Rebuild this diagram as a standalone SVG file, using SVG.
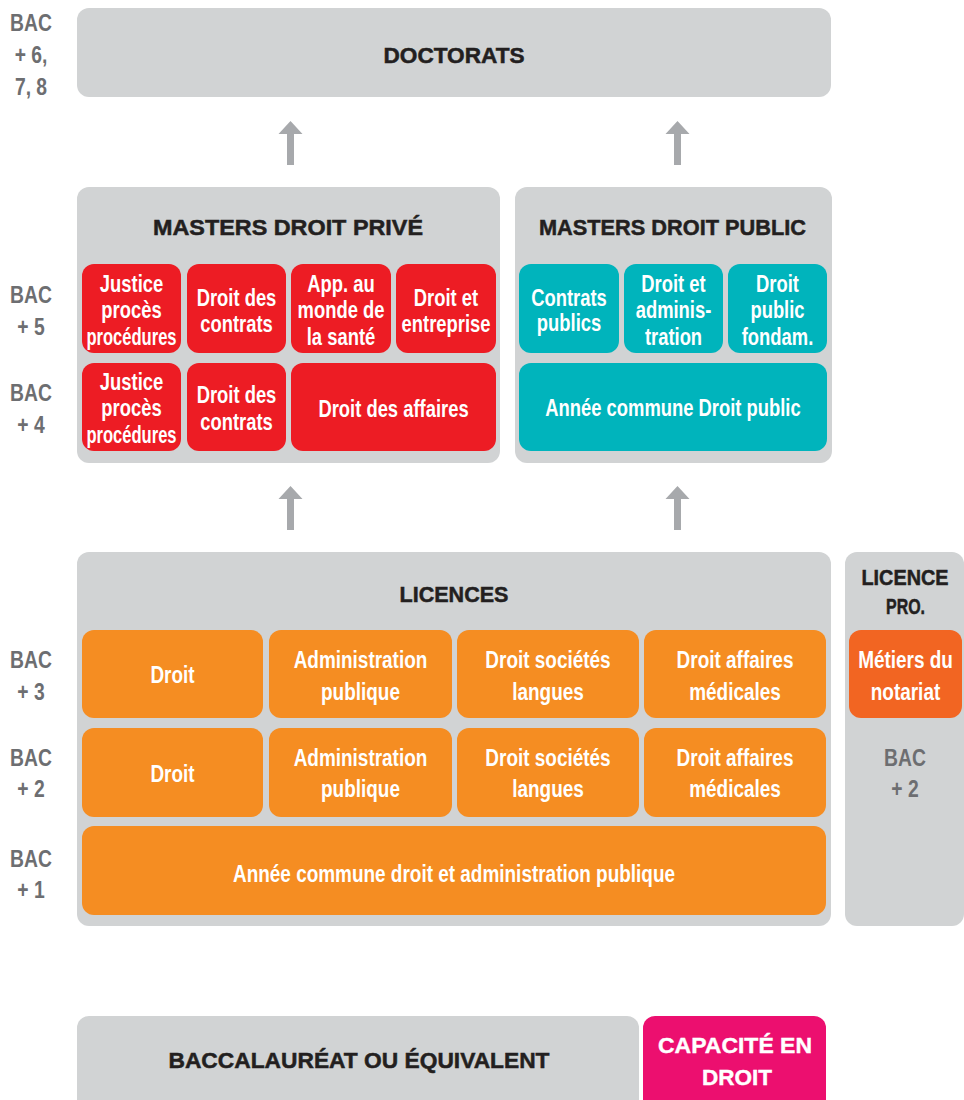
<svg xmlns="http://www.w3.org/2000/svg" width="964" height="1100" viewBox="0 0 964 1100">
<style>
.panel{fill:#d1d3d4}
.red{fill:#ed1c24}
.teal{fill:#00b4bc}
.orange{fill:#f58d22}
.dorange{fill:#f26522}
.pink{fill:#ec0f6f}
.arrow{fill:#a7a9ac}
text{font-family:"Liberation Sans",Arial,sans-serif;font-weight:bold;text-anchor:middle}
.title{font-size:22px;fill:#231f20;stroke:#231f20;stroke-width:0.5}
.wt{font-size:22px;fill:#ffffff;stroke:#ffffff;stroke-width:0.4}
.bac{font-size:23px;fill:#6d6e71}
.w{font-size:23px;fill:#ffffff}
.wo{font-size:24px;fill:#ffffff}
</style>
<rect width="964" height="1100" fill="#ffffff"/>

<g id="bac-labels">
<text class="bac" transform="translate(31,31) scale(0.84,1)">BAC</text><text class="bac" transform="translate(31,63) scale(0.84,1)">+ 6,</text><text class="bac" transform="translate(31,95) scale(0.84,1)">7, 8</text>
<text class="bac" transform="translate(31,303) scale(0.84,1)">BAC</text><text class="bac" transform="translate(31,335) scale(0.84,1)">+ 5</text>
<text class="bac" transform="translate(31,401) scale(0.84,1)">BAC</text><text class="bac" transform="translate(31,433) scale(0.84,1)">+ 4</text>
<text class="bac" transform="translate(31,668) scale(0.84,1)">BAC</text><text class="bac" transform="translate(31,700) scale(0.84,1)">+ 3</text>
<text class="bac" transform="translate(31,766) scale(0.84,1)">BAC</text><text class="bac" transform="translate(31,797) scale(0.84,1)">+ 2</text>
<text class="bac" transform="translate(31,867) scale(0.84,1)">BAC</text><text class="bac" transform="translate(31,898) scale(0.84,1)">+ 1</text>
</g>

<g id="doctorats">
<rect class="panel" x="77" y="8" width="754" height="89" rx="12"/>
<text class="title" x="454" y="63" textLength="141" lengthAdjust="spacingAndGlyphs">DOCTORATS</text>
</g>

<g id="masters-prive">
<rect class="panel" x="77" y="187" width="423" height="276" rx="12"/>
<text class="title" x="288" y="235" textLength="270" lengthAdjust="spacingAndGlyphs">MASTERS DROIT PRIVÉ</text>
<g id="mp-justice-5"><rect class="red" x="82" y="264" width="99" height="89" rx="12"/>
<text class="w" transform="translate(131.5,292) scale(0.8,1)">Justice</text><text class="w" transform="translate(131.5,318) scale(0.8,1)">procès</text><text class="w" transform="translate(131.5,345) scale(0.72,1)">procédures</text></g>
<g id="mp-contrats-5"><rect class="red" x="187" y="264" width="99" height="89" rx="12"/>
<text class="w" transform="translate(236.5,306) scale(0.8,1)">Droit des</text><text class="w" transform="translate(236.5,332) scale(0.8,1)">contrats</text></g>
<g id="mp-sante-5"><rect class="red" x="291" y="264" width="100" height="89" rx="12"/>
<text class="w" transform="translate(341,292) scale(0.8,1)">App. au</text><text class="w" transform="translate(341,318) scale(0.8,1)">monde de</text><text class="w" transform="translate(341,345) scale(0.8,1)">la santé</text></g>
<g id="mp-entreprise-5"><rect class="red" x="396" y="264" width="100" height="89" rx="12"/>
<text class="w" transform="translate(446,306) scale(0.8,1)">Droit et</text><text class="w" transform="translate(446,332) scale(0.8,1)">entreprise</text></g>
<g id="mp-justice-4"><rect class="red" x="82" y="363" width="99" height="88" rx="12"/>
<text class="w" transform="translate(131.5,390) scale(0.8,1)">Justice</text><text class="w" transform="translate(131.5,416) scale(0.8,1)">procès</text><text class="w" transform="translate(131.5,443) scale(0.72,1)">procédures</text></g>
<g id="mp-contrats-4"><rect class="red" x="187" y="363" width="99" height="88" rx="12"/>
<text class="w" transform="translate(236.5,403) scale(0.8,1)">Droit des</text><text class="w" transform="translate(236.5,430) scale(0.8,1)">contrats</text></g>
<g id="mp-affaires-4"><rect class="red" x="291" y="363" width="205" height="88" rx="12"/>
<text class="w" transform="translate(393.5,417) scale(0.8,1)">Droit des affaires</text></g>
</g>

<g id="masters-public">
<rect class="panel" x="515" y="187" width="317" height="276" rx="12"/>
<text class="title" x="672.5" y="235" textLength="267" lengthAdjust="spacingAndGlyphs">MASTERS DROIT PUBLIC</text>
<g id="pub-contrats"><rect class="teal" x="519" y="264" width="100" height="89" rx="12"/>
<text class="w" transform="translate(569,306) scale(0.8,1)">Contrats</text><text class="w" transform="translate(569,331) scale(0.8,1)">publics</text></g>
<g id="pub-admin"><rect class="teal" x="624" y="264" width="99" height="89" rx="12"/>
<text class="w" transform="translate(673.5,292) scale(0.8,1)">Droit et</text><text class="w" transform="translate(673.5,318) scale(0.8,1)">adminis-</text><text class="w" transform="translate(673.5,345) scale(0.8,1)">tration</text></g>
<g id="pub-fondam"><rect class="teal" x="728" y="264" width="99" height="89" rx="12"/>
<text class="w" transform="translate(777.5,292) scale(0.8,1)">Droit</text><text class="w" transform="translate(777.5,318) scale(0.8,1)">public</text><text class="w" transform="translate(777.5,345) scale(0.8,1)">fondam.</text></g>
<g id="pub-commune"><rect class="teal" x="519" y="363" width="308" height="88" rx="12"/>
<text class="w" transform="translate(673,416) scale(0.8,1)">Année commune Droit public</text></g>
</g>

<g id="licences">
<rect class="panel" x="77" y="552" width="754" height="374" rx="12"/>
<text class="title" x="454" y="602" textLength="109" lengthAdjust="spacingAndGlyphs">LICENCES</text>
<g id="l3-droit"><rect class="orange" x="82" y="630" width="181" height="88" rx="12"/>
<text class="wo" transform="translate(172.5,683) scale(0.79,1)">Droit</text></g>
<g id="l3-admin"><rect class="orange" x="269" y="630" width="183" height="88" rx="12"/>
<text class="wo" transform="translate(360.5,668) scale(0.79,1)">Administration</text><text class="wo" transform="translate(360.5,700) scale(0.79,1)">publique</text></g>
<g id="l3-societes"><rect class="orange" x="457" y="630" width="182" height="88" rx="12"/>
<text class="wo" transform="translate(548,668) scale(0.79,1)">Droit sociétés</text><text class="wo" transform="translate(548,700) scale(0.79,1)">langues</text></g>
<g id="l3-medicales"><rect class="orange" x="644" y="630" width="182" height="88" rx="12"/>
<text class="wo" transform="translate(735,668) scale(0.79,1)">Droit affaires</text><text class="wo" transform="translate(735,700) scale(0.79,1)">médicales</text></g>
<g id="l2-droit"><rect class="orange" x="82" y="728" width="181" height="89" rx="12"/>
<text class="wo" transform="translate(172.5,782) scale(0.79,1)">Droit</text></g>
<g id="l2-admin"><rect class="orange" x="269" y="728" width="183" height="89" rx="12"/>
<text class="wo" transform="translate(360.5,766) scale(0.79,1)">Administration</text><text class="wo" transform="translate(360.5,797) scale(0.79,1)">publique</text></g>
<g id="l2-societes"><rect class="orange" x="457" y="728" width="182" height="89" rx="12"/>
<text class="wo" transform="translate(548,766) scale(0.79,1)">Droit sociétés</text><text class="wo" transform="translate(548,797) scale(0.79,1)">langues</text></g>
<g id="l2-medicales"><rect class="orange" x="644" y="728" width="182" height="89" rx="12"/>
<text class="wo" transform="translate(735,766) scale(0.79,1)">Droit affaires</text><text class="wo" transform="translate(735,797) scale(0.79,1)">médicales</text></g>
<g id="l1-commune"><rect class="orange" x="82" y="826" width="744" height="89" rx="12"/>
<text class="wo" transform="translate(454,882) scale(0.79,1)">Année commune droit et administration publique</text></g>
</g>

<g id="licence-pro">
<rect class="panel" x="845" y="552" width="119" height="374" rx="12"/>
<text class="title" x="905" y="585" textLength="87" lengthAdjust="spacingAndGlyphs">LICENCE</text>
<text class="title" x="905.5" y="614" textLength="39" lengthAdjust="spacingAndGlyphs">PRO.</text>
<g id="pro-notariat"><rect class="dorange" x="849" y="630" width="113" height="88" rx="12"/>
<text class="wo" transform="translate(905.5,668) scale(0.79,1)">Métiers du</text><text class="wo" transform="translate(905.5,700) scale(0.79,1)">notariat</text></g>
<text class="bac" transform="translate(905,766) scale(0.84,1)">BAC</text><text class="bac" transform="translate(905,797) scale(0.84,1)">+ 2</text>
</g>

<g id="baccalaureat">
<rect class="panel" x="77" y="1016" width="562" height="100" rx="12"/>
<text class="title" x="359" y="1068" textLength="381" lengthAdjust="spacingAndGlyphs">BACCALAURÉAT OU ÉQUIVALENT</text>
</g>

<g id="capacite">
<rect class="pink" x="643" y="1016" width="183" height="100" rx="12"/>
<text class="wt" x="735" y="1053" textLength="154" lengthAdjust="spacingAndGlyphs">CAPACITÉ EN</text>
<text class="wt" x="737" y="1085" textLength="70" lengthAdjust="spacingAndGlyphs">DROIT</text>
</g>

<g id="connectors">
<polygon class="arrow" points="290.5,121 302.5,134 294,134 294,165 287,165 287,134 278.5,134"/>
<polygon class="arrow" points="677.5,121 689.5,134 681,134 681,165 674,165 674,134 665.5,134"/>
<polygon class="arrow" points="290.5,486 302.5,499 294,499 294,530 287,530 287,499 278.5,499"/>
<polygon class="arrow" points="677.5,486 689.5,499 681,499 681,530 674,530 674,499 665.5,499"/>
</g>
</svg>
